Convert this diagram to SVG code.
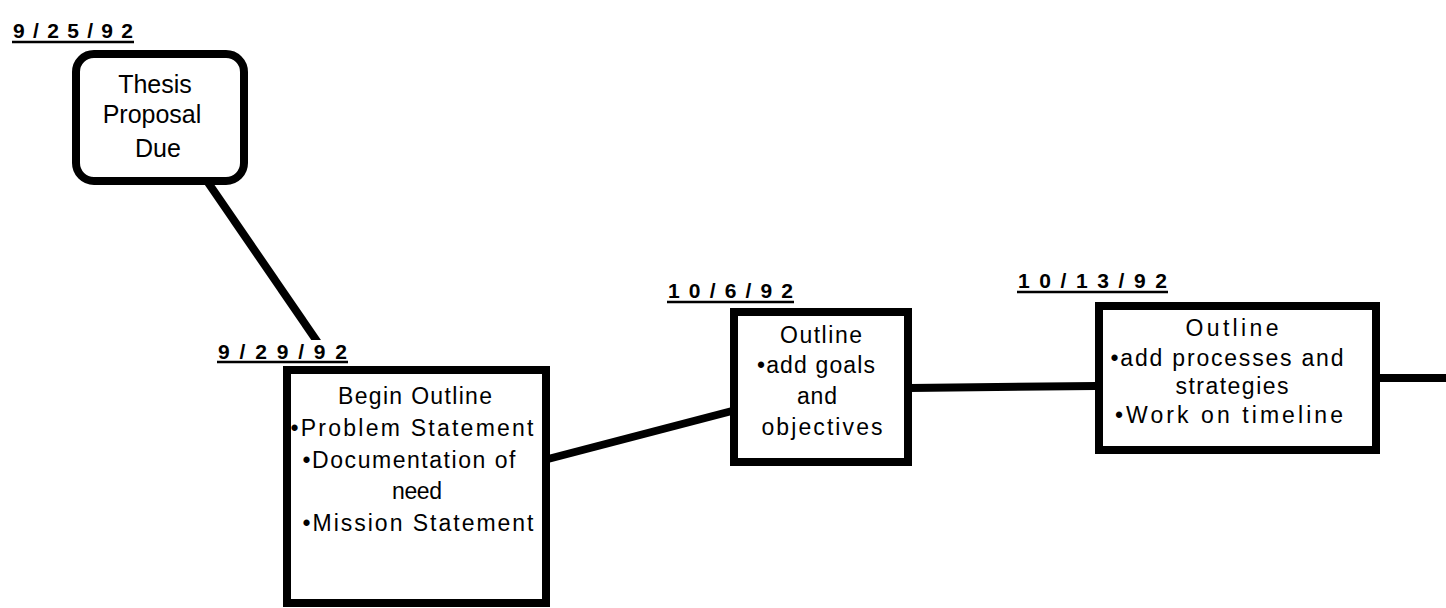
<svg xmlns="http://www.w3.org/2000/svg" width="1446" height="608" viewBox="0 0 1446 608">
  <style>
    .box { fill: #fff; stroke: #000; stroke-width: 8; }
    .link { stroke: #000; stroke-width: 8; fill: none; stroke-linecap: butt; }
    .body { font-family: "Liberation Sans", Arial, sans-serif; font-size: 23px; fill: #000; text-anchor: middle; }
    .date { font-family: "Liberation Sans", Arial, sans-serif; font-size: 21px; font-weight: bold; fill: #000; }
    .rule { stroke: #000; stroke-width: 2.5; }
  </style>
  <rect width="1446" height="608" fill="#fff"/>

  <!-- timeline connectors -->
  <g id="connectors">
    <line class="link" x1="207" y1="181" x2="336" y2="369"/>
    <line class="link" x1="548" y1="459" x2="732" y2="411"/>
    <line class="link" x1="910" y1="388" x2="1096" y2="386"/>
    <line class="link" x1="1378" y1="378" x2="1446" y2="378"/>
  </g>

  <!-- 9/25/92 milestone -->
  <g id="node-thesis-proposal">
    <text class="date" x="13" y="38" textLength="120" lengthAdjust="spacing">9/25/92</text>
    <line class="rule" x1="12" y1="42" x2="134" y2="42"/>
    <rect class="box" x="76" y="54" width="168" height="127" rx="18" ry="18"/>
    <text class="body" style="font-size:25px" x="155" y="93">Thesis</text>
    <text class="body" style="font-size:25px" x="152" y="123">Proposal</text>
    <text class="body" style="font-size:25px" x="158" y="157">Due</text>
  </g>

  <!-- 9/29/92 milestone -->
  <g id="node-begin-outline">
    <rect x="214" y="340" width="138" height="26" fill="#fff"/>
    <text class="date" x="218" y="359" textLength="129" lengthAdjust="spacing">9/29/92</text>
    <line class="rule" x1="217" y1="362" x2="348" y2="362"/>
    <rect class="box" x="287" y="370" width="259" height="233"/>
    <text class="body" x="415" y="404" textLength="154" lengthAdjust="spacing">Begin Outline</text>
    <text class="body" x="412" y="436" textLength="243" lengthAdjust="spacing">•Problem Statement</text>
    <text class="body" x="409" y="468" textLength="213" lengthAdjust="spacing">•Documentation of</text>
    <text class="body" x="417" y="499" textLength="50" lengthAdjust="spacing">need</text>
    <text class="body" x="418" y="531" textLength="231" lengthAdjust="spacing">•Mission Statement</text>
  </g>

  <!-- 10/6/92 milestone -->
  <g id="node-goals-objectives">
    <text class="date" x="668" y="298" textLength="125" lengthAdjust="spacing">10/6/92</text>
    <line class="rule" x1="667" y1="302" x2="794" y2="302"/>
    <rect class="box" x="734" y="312" width="174" height="150"/>
    <text class="body" x="821" y="343" textLength="82" lengthAdjust="spacing">Outline</text>
    <text class="body" x="816" y="373" textLength="118" lengthAdjust="spacing">•add goals</text>
    <text class="body" x="817" y="404" textLength="40" lengthAdjust="spacing">and</text>
    <text class="body" x="822" y="435" textLength="121" lengthAdjust="spacing">objectives</text>
  </g>

  <!-- 10/13/92 milestone -->
  <g id="node-processes-strategies">
    <text class="date" x="1018" y="288" textLength="149" lengthAdjust="spacing">10/13/92</text>
    <line class="rule" x1="1017" y1="292" x2="1168" y2="292"/>
    <rect class="box" x="1099" y="306" width="277" height="144"/>
    <text class="body" x="1232" y="336" textLength="93" lengthAdjust="spacing">Outline</text>
    <text class="body" x="1227" y="366" textLength="233" lengthAdjust="spacing">•add processes and</text>
    <text class="body" x="1232" y="394" textLength="113" lengthAdjust="spacing">strategies</text>
    <text class="body" x="1229" y="423" textLength="228" lengthAdjust="spacing">•Work on timeline</text>
  </g>
</svg>
